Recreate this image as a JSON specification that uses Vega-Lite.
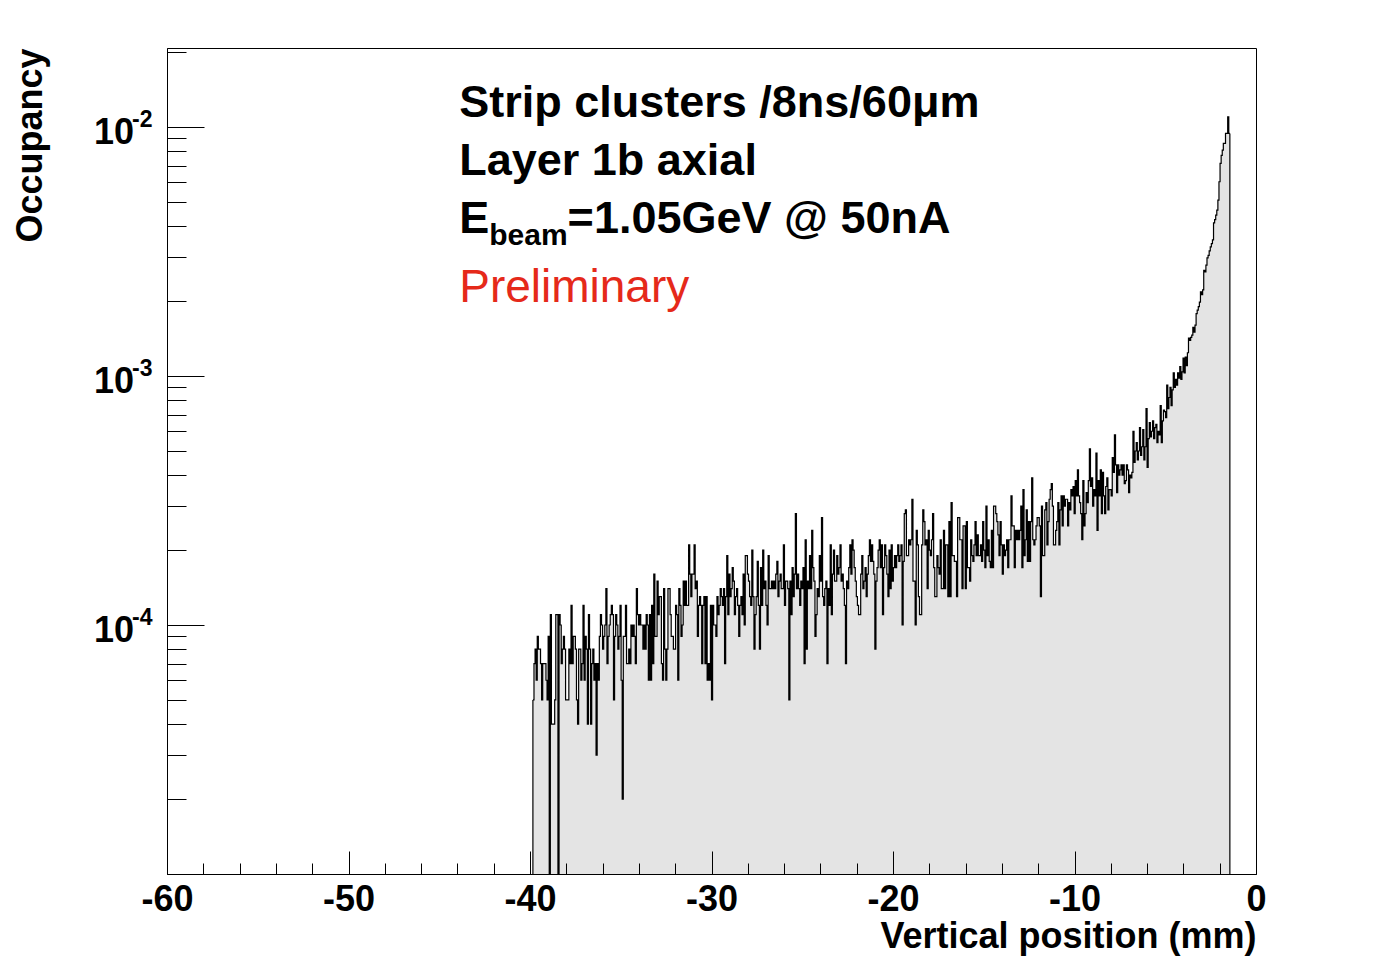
{
"$schema": "https://vega.github.io/schema/vega-lite/v6.json",
"width": 1089, "height": 826,
"autosize": {"type": "none"},
"padding": {"left": 167, "top": 48, "right": 140, "bottom": 98},
"background": "white",
"config": {
  "view": {"stroke": "black", "strokeWidth": 1},
  "axis": {"grid": false, "domainColor": "black", "tickColor": "black", "domainWidth": 1, "tickWidth": 1, "labelColor": "black", "titleColor": "black"}
},
"datasets": {
"hist": [
{"x":-39.84,"y":5e-5},{"x":-39.78,"y":7e-5},{"x":-39.72,"y":8e-5},{"x":-39.66,"y":6e-5},{"x":-39.6,"y":9e-5},{"x":-39.54,"y":8e-5},{"x":-39.48,"y":8e-5},{"x":-39.42,"y":7e-5},{"x":-39.36,"y":5e-5},{"x":-39.3,"y":7e-5},
{"x":-39.24,"y":7e-5},{"x":-39.18,"y":7e-5},{"x":-39.12,"y":6e-5},{"x":-39.06,"y":5e-5},{"x":-39,"y":9e-5},{"x":-38.94,"y":1e-5},{"x":-38.88,"y":1.1e-4},{"x":-38.82,"y":4e-5},{"x":-38.76,"y":4e-5},{"x":-38.7,"y":4e-5},
{"x":-38.64,"y":5e-5},{"x":-38.58,"y":1.1e-4},{"x":-38.52,"y":1.1e-4},{"x":-38.46,"y":1e-5},{"x":-38.4,"y":1.1e-4},{"x":-38.34,"y":1e-4},{"x":-38.28,"y":7e-5},{"x":-38.22,"y":8e-5},{"x":-38.16,"y":9e-5},{"x":-38.1,"y":8e-5},
{"x":-38.04,"y":5e-5},{"x":-37.98,"y":5e-5},{"x":-37.92,"y":5e-5},{"x":-37.86,"y":8e-5},{"x":-37.8,"y":7e-5},{"x":-37.74,"y":1.2e-4},{"x":-37.68,"y":7e-5},{"x":-37.62,"y":9e-5},{"x":-37.56,"y":9e-5},{"x":-37.5,"y":8e-5},
{"x":-37.44,"y":5e-5},{"x":-37.38,"y":4e-5},{"x":-37.32,"y":8e-5},{"x":-37.26,"y":8e-5},{"x":-37.2,"y":6e-5},{"x":-37.14,"y":7e-5},{"x":-37.08,"y":1.2e-4},{"x":-37.02,"y":6e-5},{"x":-36.96,"y":9e-5},{"x":-36.9,"y":8e-5},
{"x":-36.84,"y":4e-5},{"x":-36.78,"y":1.1e-4},{"x":-36.72,"y":8e-5},{"x":-36.66,"y":4e-5},{"x":-36.6,"y":7e-5},{"x":-36.54,"y":8e-5},{"x":-36.48,"y":6e-5},{"x":-36.42,"y":7e-5},{"x":-36.36,"y":3e-5},{"x":-36.3,"y":7e-5},
{"x":-36.24,"y":6e-5},{"x":-36.18,"y":9e-5},{"x":-36.12,"y":1.1e-4},{"x":-36.06,"y":1e-4},{"x":-36,"y":8e-5},{"x":-35.94,"y":9e-5},{"x":-35.88,"y":1e-4},{"x":-35.82,"y":1.4e-4},{"x":-35.76,"y":7e-5},{"x":-35.7,"y":9e-5},
{"x":-35.64,"y":1e-4},{"x":-35.58,"y":1.1e-4},{"x":-35.52,"y":1.2e-4},{"x":-35.46,"y":1.1e-4},{"x":-35.4,"y":5e-5},{"x":-35.34,"y":9e-5},{"x":-35.28,"y":1.1e-4},{"x":-35.22,"y":1e-4},{"x":-35.16,"y":8e-5},{"x":-35.1,"y":9e-5},
{"x":-35.04,"y":1.2e-4},{"x":-34.98,"y":6e-5},{"x":-34.92,"y":2e-5},{"x":-34.86,"y":9e-5},{"x":-34.8,"y":9e-5},{"x":-34.74,"y":1.2e-4},{"x":-34.68,"y":7e-5},{"x":-34.62,"y":7e-5},{"x":-34.56,"y":8e-5},{"x":-34.5,"y":7e-5},
{"x":-34.44,"y":1e-4},{"x":-34.38,"y":9e-5},{"x":-34.32,"y":1e-4},{"x":-34.26,"y":9e-5},{"x":-34.2,"y":7e-5},{"x":-34.14,"y":1.4e-4},{"x":-34.08,"y":1.1e-4},{"x":-34.02,"y":1e-4},{"x":-33.96,"y":1.1e-4},{"x":-33.9,"y":1e-4},
{"x":-33.84,"y":1e-4},{"x":-33.78,"y":8e-5},{"x":-33.72,"y":1e-4},{"x":-33.66,"y":8e-5},{"x":-33.6,"y":1.1e-4},{"x":-33.54,"y":1e-4},{"x":-33.48,"y":6e-5},{"x":-33.42,"y":1.1e-4},{"x":-33.36,"y":6e-5},{"x":-33.3,"y":1.2e-4},
{"x":-33.24,"y":7e-5},{"x":-33.18,"y":1.6e-4},{"x":-33.12,"y":9e-5},{"x":-33.06,"y":9e-5},{"x":-33,"y":1.5e-4},{"x":-32.94,"y":1.1e-4},{"x":-32.88,"y":1.3e-4},{"x":-32.82,"y":1.3e-4},{"x":-32.76,"y":7e-5},{"x":-32.7,"y":6e-5},
{"x":-32.64,"y":1.4e-4},{"x":-32.58,"y":8e-5},{"x":-32.52,"y":6e-5},{"x":-32.46,"y":8e-5},{"x":-32.4,"y":1.4e-4},{"x":-32.34,"y":1.4e-4},{"x":-32.28,"y":1.1e-4},{"x":-32.22,"y":9e-5},{"x":-32.16,"y":9e-5},{"x":-32.1,"y":8e-5},
{"x":-32.04,"y":8e-5},{"x":-31.98,"y":1.2e-4},{"x":-31.92,"y":1.1e-4},{"x":-31.86,"y":6e-5},{"x":-31.8,"y":1.4e-4},{"x":-31.74,"y":1.2e-4},{"x":-31.68,"y":9e-5},{"x":-31.62,"y":1e-4},{"x":-31.56,"y":1.5e-4},{"x":-31.5,"y":1.2e-4},
{"x":-31.44,"y":1.5e-4},{"x":-31.38,"y":1.2e-4},{"x":-31.32,"y":1.2e-4},{"x":-31.26,"y":2.1e-4},{"x":-31.2,"y":1.6e-4},{"x":-31.14,"y":1.3e-4},{"x":-31.08,"y":1.6e-4},{"x":-31.02,"y":1.6e-4},{"x":-30.96,"y":2.1e-4},{"x":-30.9,"y":1.4e-4},
{"x":-30.84,"y":1.5e-4},{"x":-30.78,"y":9e-5},{"x":-30.72,"y":1.2e-4},{"x":-30.66,"y":1.3e-4},{"x":-30.6,"y":1.2e-4},{"x":-30.54,"y":7e-5},{"x":-30.48,"y":1.2e-4},{"x":-30.42,"y":1.3e-4},{"x":-30.36,"y":7e-5},{"x":-30.3,"y":1.3e-4},
{"x":-30.24,"y":6e-5},{"x":-30.18,"y":7e-5},{"x":-30.12,"y":6e-5},{"x":-30.06,"y":1.2e-4},{"x":-30,"y":5e-5},{"x":-29.94,"y":1.2e-4},{"x":-29.88,"y":1e-4},{"x":-29.82,"y":1e-4},{"x":-29.76,"y":9e-5},{"x":-29.7,"y":1.3e-4},
{"x":-29.64,"y":1.1e-4},{"x":-29.58,"y":1.2e-4},{"x":-29.52,"y":1.4e-4},{"x":-29.46,"y":1.3e-4},{"x":-29.4,"y":1.2e-4},{"x":-29.34,"y":1.4e-4},{"x":-29.28,"y":7e-5},{"x":-29.22,"y":1.3e-4},{"x":-29.16,"y":1.9e-4},{"x":-29.1,"y":1.1e-4},
{"x":-29.04,"y":1.6e-4},{"x":-28.98,"y":1.3e-4},{"x":-28.92,"y":1.4e-4},{"x":-28.86,"y":1.7e-4},{"x":-28.8,"y":1.5e-4},{"x":-28.74,"y":1.1e-4},{"x":-28.68,"y":1.3e-4},{"x":-28.62,"y":1.4e-4},{"x":-28.56,"y":1.2e-4},{"x":-28.5,"y":9e-5},
{"x":-28.44,"y":1.2e-4},{"x":-28.38,"y":1.3e-4},{"x":-28.32,"y":1.1e-4},{"x":-28.26,"y":1.6e-4},{"x":-28.2,"y":1e-4},{"x":-28.14,"y":1.9e-4},{"x":-28.08,"y":1.9e-4},{"x":-28.02,"y":1.6e-4},{"x":-27.96,"y":1.5e-4},{"x":-27.9,"y":1.3e-4},
{"x":-27.84,"y":1.2e-4},{"x":-27.78,"y":2e-4},{"x":-27.72,"y":1.3e-4},{"x":-27.66,"y":8e-5},{"x":-27.6,"y":1.1e-4},{"x":-27.54,"y":1.3e-4},{"x":-27.48,"y":1.8e-4},{"x":-27.42,"y":1.2e-4},{"x":-27.36,"y":8e-5},{"x":-27.3,"y":1.7e-4},
{"x":-27.24,"y":1.2e-4},{"x":-27.18,"y":2e-4},{"x":-27.12,"y":1.4e-4},{"x":-27.06,"y":1.5e-4},{"x":-27,"y":1.2e-4},{"x":-26.94,"y":1e-4},{"x":-26.88,"y":1.9e-4},{"x":-26.82,"y":1.4e-4},{"x":-26.76,"y":1.4e-4},{"x":-26.7,"y":1.5e-4},
{"x":-26.64,"y":1.4e-4},{"x":-26.58,"y":1.5e-4},{"x":-26.52,"y":1.4e-4},{"x":-26.46,"y":1.6e-4},{"x":-26.4,"y":1.8e-4},{"x":-26.34,"y":1.3e-4},{"x":-26.28,"y":1.5e-4},{"x":-26.22,"y":1.6e-4},{"x":-26.16,"y":1.4e-4},{"x":-26.1,"y":1.4e-4},
{"x":-26.04,"y":2.1e-4},{"x":-25.98,"y":1.2e-4},{"x":-25.92,"y":1.5e-4},{"x":-25.86,"y":1.5e-4},{"x":-25.8,"y":1.4e-4},{"x":-25.74,"y":5e-5},{"x":-25.68,"y":1.5e-4},{"x":-25.62,"y":1.1e-4},{"x":-25.56,"y":1.7e-4},{"x":-25.5,"y":1.3e-4},
{"x":-25.44,"y":1.6e-4},{"x":-25.38,"y":2.8e-4},{"x":-25.32,"y":1.4e-4},{"x":-25.26,"y":1.6e-4},{"x":-25.2,"y":1.4e-4},{"x":-25.14,"y":1.2e-4},{"x":-25.08,"y":1.5e-4},{"x":-25.02,"y":1.4e-4},{"x":-24.96,"y":1.7e-4},{"x":-24.9,"y":7e-5},
{"x":-24.84,"y":2.2e-4},{"x":-24.78,"y":8e-5},{"x":-24.72,"y":1.5e-4},{"x":-24.66,"y":1.4e-4},{"x":-24.6,"y":1.9e-4},{"x":-24.54,"y":1.4e-4},{"x":-24.48,"y":2.4e-4},{"x":-24.42,"y":1.7e-4},{"x":-24.36,"y":1.5e-4},{"x":-24.3,"y":9e-5},
{"x":-24.24,"y":1.1e-4},{"x":-24.18,"y":1.4e-4},{"x":-24.12,"y":1.3e-4},{"x":-24.06,"y":1.9e-4},{"x":-24,"y":1.5e-4},{"x":-23.94,"y":2.7e-4},{"x":-23.88,"y":1.3e-4},{"x":-23.82,"y":1.2e-4},{"x":-23.76,"y":1.4e-4},{"x":-23.7,"y":1.5e-4},
{"x":-23.64,"y":7e-5},{"x":-23.58,"y":1.4e-4},{"x":-23.52,"y":1.2e-4},{"x":-23.46,"y":2.1e-4},{"x":-23.4,"y":1.1e-4},{"x":-23.34,"y":1.6e-4},{"x":-23.28,"y":2e-4},{"x":-23.22,"y":1.5e-4},{"x":-23.16,"y":1.5e-4},{"x":-23.1,"y":1.9e-4},
{"x":-23.04,"y":1.6e-4},{"x":-22.98,"y":1.7e-4},{"x":-22.92,"y":2.1e-4},{"x":-22.86,"y":1.5e-4},{"x":-22.8,"y":1.6e-4},{"x":-22.74,"y":1.4e-4},{"x":-22.68,"y":1.2e-4},{"x":-22.62,"y":7e-5},{"x":-22.56,"y":1.5e-4},{"x":-22.5,"y":1.4e-4},
{"x":-22.44,"y":1.7e-4},{"x":-22.38,"y":2.1e-4},{"x":-22.32,"y":1.6e-4},{"x":-22.26,"y":2.2e-4},{"x":-22.2,"y":2e-4},{"x":-22.14,"y":1.7e-4},{"x":-22.08,"y":1.5e-4},{"x":-22.02,"y":1.3e-4},{"x":-21.96,"y":1.2e-4},{"x":-21.9,"y":1.1e-4},
{"x":-21.84,"y":1.1e-4},{"x":-21.78,"y":1.6e-4},{"x":-21.72,"y":1.9e-4},{"x":-21.66,"y":1.4e-4},{"x":-21.6,"y":1.5e-4},{"x":-21.54,"y":1.7e-4},{"x":-21.48,"y":1.3e-4},{"x":-21.42,"y":1.6e-4},{"x":-21.36,"y":1.9e-4},{"x":-21.3,"y":2.2e-4},
{"x":-21.24,"y":1.8e-4},{"x":-21.18,"y":2.1e-4},{"x":-21.12,"y":1.8e-4},{"x":-21.06,"y":1.6e-4},{"x":-21,"y":8e-5},{"x":-20.94,"y":1.5e-4},{"x":-20.88,"y":1.7e-4},{"x":-20.82,"y":2e-4},{"x":-20.76,"y":2.2e-4},{"x":-20.7,"y":1.7e-4},
{"x":-20.64,"y":2.1e-4},{"x":-20.58,"y":1.1e-4},{"x":-20.52,"y":1.7e-4},{"x":-20.46,"y":2.1e-4},{"x":-20.4,"y":1.9e-4},{"x":-20.34,"y":1.6e-4},{"x":-20.28,"y":1.3e-4},{"x":-20.22,"y":2e-4},{"x":-20.16,"y":1.4e-4},{"x":-20.1,"y":2.1e-4},
{"x":-20.04,"y":1.5e-4},{"x":-19.98,"y":1.7e-4},{"x":-19.92,"y":1.9e-4},{"x":-19.86,"y":1.7e-4},{"x":-19.8,"y":1.9e-4},{"x":-19.74,"y":2.1e-4},{"x":-19.68,"y":1.8e-4},{"x":-19.62,"y":1.9e-4},{"x":-19.56,"y":2.1e-4},{"x":-19.5,"y":1e-4},
{"x":-19.44,"y":1.8e-4},{"x":-19.38,"y":2.8e-4},{"x":-19.32,"y":2.9e-4},{"x":-19.26,"y":1.9e-4},{"x":-19.2,"y":1.9e-4},{"x":-19.14,"y":2.2e-4},{"x":-19.08,"y":2.1e-4},{"x":-19.02,"y":2.2e-4},{"x":-18.96,"y":3.2e-4},{"x":-18.9,"y":1.5e-4},
{"x":-18.84,"y":1.5e-4},{"x":-18.78,"y":1e-4},{"x":-18.72,"y":2.4e-4},{"x":-18.66,"y":2.1e-4},{"x":-18.6,"y":1.3e-4},{"x":-18.54,"y":1.1e-4},{"x":-18.48,"y":1.1e-4},{"x":-18.42,"y":2.1e-4},{"x":-18.36,"y":2.9e-4},{"x":-18.3,"y":2.6e-4},
{"x":-18.24,"y":2.1e-4},{"x":-18.18,"y":2.2e-4},{"x":-18.12,"y":1.4e-4},{"x":-18.06,"y":2.4e-4},{"x":-18,"y":2e-4},{"x":-17.94,"y":1.9e-4},{"x":-17.88,"y":2.2e-4},{"x":-17.82,"y":2.8e-4},{"x":-17.76,"y":1.7e-4},{"x":-17.7,"y":1.3e-4},
{"x":-17.64,"y":1.3e-4},{"x":-17.58,"y":1.9e-4},{"x":-17.52,"y":1.7e-4},{"x":-17.46,"y":1.6e-4},{"x":-17.4,"y":2.2e-4},{"x":-17.34,"y":1.4e-4},{"x":-17.28,"y":1.4e-4},{"x":-17.22,"y":2.4e-4},{"x":-17.16,"y":1.4e-4},{"x":-17.1,"y":2.1e-4},
{"x":-17.04,"y":2.1e-4},{"x":-16.98,"y":1.3e-4},{"x":-16.92,"y":2.6e-4},{"x":-16.86,"y":1.3e-4},{"x":-16.8,"y":3.1e-4},{"x":-16.74,"y":1.9e-4},{"x":-16.68,"y":1.9e-4},{"x":-16.62,"y":1.8e-4},{"x":-16.56,"y":1.8e-4},{"x":-16.5,"y":1.3e-4},
{"x":-16.44,"y":2.7e-4},{"x":-16.38,"y":2.7e-4},{"x":-16.32,"y":2.2e-4},{"x":-16.26,"y":2.2e-4},{"x":-16.2,"y":1.4e-4},{"x":-16.14,"y":2.5e-4},{"x":-16.08,"y":2.5e-4},{"x":-16.02,"y":1.4e-4},{"x":-15.96,"y":2.6e-4},{"x":-15.9,"y":1.7e-4},
{"x":-15.84,"y":1.7e-4},{"x":-15.78,"y":1.5e-4},{"x":-15.72,"y":2.2e-4},{"x":-15.66,"y":1.9e-4},{"x":-15.6,"y":1.8e-4},{"x":-15.54,"y":2.1e-4},{"x":-15.48,"y":2.6e-4},{"x":-15.42,"y":1.9e-4},{"x":-15.36,"y":2.3e-4},{"x":-15.3,"y":1.9e-4},
{"x":-15.24,"y":1.9e-4},{"x":-15.18,"y":2.1e-4},{"x":-15.12,"y":1.8e-4},{"x":-15.06,"y":2.6e-4},{"x":-15,"y":2e-4},{"x":-14.94,"y":1.7e-4},{"x":-14.88,"y":3e-4},{"x":-14.82,"y":1.9e-4},{"x":-14.76,"y":2.2e-4},{"x":-14.7,"y":1.8e-4},
{"x":-14.64,"y":1.7e-4},{"x":-14.58,"y":2.4e-4},{"x":-14.52,"y":1.7e-4},{"x":-14.46,"y":3e-4},{"x":-14.4,"y":3e-4},{"x":-14.34,"y":2.8e-4},{"x":-14.28,"y":2.6e-4},{"x":-14.22,"y":2.3e-4},{"x":-14.16,"y":1.9e-4},{"x":-14.1,"y":2.6e-4},
{"x":-14.04,"y":2.1e-4},{"x":-13.98,"y":1.6e-4},{"x":-13.92,"y":2.1e-4},{"x":-13.86,"y":1.9e-4},{"x":-13.8,"y":2e-4},{"x":-13.74,"y":2.2e-4},{"x":-13.68,"y":1.7e-4},{"x":-13.62,"y":2.2e-4},{"x":-13.56,"y":2.2e-4},{"x":-13.5,"y":3.3e-4},
{"x":-13.44,"y":2.5e-4},{"x":-13.38,"y":2.5e-4},{"x":-13.32,"y":1.7e-4},{"x":-13.26,"y":2.4e-4},{"x":-13.2,"y":2.2e-4},{"x":-13.14,"y":2.4e-4},{"x":-13.08,"y":2.2e-4},{"x":-13.02,"y":2.4e-4},{"x":-12.96,"y":3e-4},{"x":-12.9,"y":1.7e-4},
{"x":-12.84,"y":3.5e-4},{"x":-12.78,"y":1.9e-4},{"x":-12.72,"y":2.2e-4},{"x":-12.66,"y":2.9e-4},{"x":-12.6,"y":1.8e-4},{"x":-12.54,"y":2.6e-4},{"x":-12.48,"y":1.8e-4},{"x":-12.42,"y":2.6e-4},{"x":-12.36,"y":3.9e-4},{"x":-12.3,"y":2.2e-4},
{"x":-12.24,"y":2.1e-4},{"x":-12.18,"y":2.2e-4},{"x":-12.12,"y":2.5e-4},{"x":-12.06,"y":2.7e-4},{"x":-12,"y":2.7e-4},{"x":-11.94,"y":2.5e-4},{"x":-11.88,"y":1.3e-4},{"x":-11.82,"y":3e-4},{"x":-11.76,"y":1.9e-4},{"x":-11.7,"y":1.9e-4},
{"x":-11.64,"y":2.9e-4},{"x":-11.58,"y":3.1e-4},{"x":-11.52,"y":2.1e-4},{"x":-11.46,"y":2.6e-4},{"x":-11.4,"y":3.2e-4},{"x":-11.34,"y":3.5e-4},{"x":-11.28,"y":3.7e-4},{"x":-11.22,"y":3e-4},{"x":-11.16,"y":2.1e-4},{"x":-11.1,"y":2.1e-4},
{"x":-11.04,"y":2.4e-4},{"x":-10.98,"y":2.6e-4},{"x":-10.92,"y":3.1e-4},{"x":-10.86,"y":2.1e-4},{"x":-10.8,"y":2.9e-4},{"x":-10.74,"y":3.3e-4},{"x":-10.68,"y":2.5e-4},{"x":-10.62,"y":3.3e-4},{"x":-10.56,"y":3e-4},{"x":-10.5,"y":3.2e-4},
{"x":-10.44,"y":3.2e-4},{"x":-10.38,"y":2.5e-4},{"x":-10.32,"y":3.1e-4},{"x":-10.26,"y":2.9e-4},{"x":-10.2,"y":3.5e-4},{"x":-10.14,"y":3.3e-4},{"x":-10.08,"y":3.6e-4},{"x":-10.02,"y":2.8e-4},{"x":-9.96,"y":3.8e-4},{"x":-9.9,"y":3.3e-4},
{"x":-9.84,"y":4.2e-4},{"x":-9.78,"y":3.3e-4},{"x":-9.72,"y":3.1e-4},{"x":-9.66,"y":2.8e-4},{"x":-9.6,"y":2.2e-4},{"x":-9.54,"y":3.8e-4},{"x":-9.48,"y":2.5e-4},{"x":-9.42,"y":2.8e-4},{"x":-9.36,"y":3.4e-4},{"x":-9.3,"y":3.1e-4},
{"x":-9.24,"y":3.8e-4},{"x":-9.18,"y":5.1e-4},{"x":-9.12,"y":3.6e-4},{"x":-9.06,"y":3.9e-4},{"x":-9,"y":3e-4},{"x":-8.94,"y":3.5e-4},{"x":-8.88,"y":3.3e-4},{"x":-8.82,"y":4.9e-4},{"x":-8.76,"y":2.4e-4},{"x":-8.7,"y":3.8e-4},
{"x":-8.64,"y":3.3e-4},{"x":-8.58,"y":4.2e-4},{"x":-8.52,"y":2.8e-4},{"x":-8.46,"y":4.1e-4},{"x":-8.4,"y":3.3e-4},{"x":-8.34,"y":2.8e-4},{"x":-8.28,"y":3.6e-4},{"x":-8.22,"y":3.9e-4},{"x":-8.16,"y":2.9e-4},{"x":-8.1,"y":3.5e-4},
{"x":-8.04,"y":3.5e-4},{"x":-7.98,"y":3.3e-4},{"x":-7.92,"y":4.7e-4},{"x":-7.86,"y":4.1e-4},{"x":-7.8,"y":5.8e-4},{"x":-7.74,"y":4.4e-4},{"x":-7.68,"y":3.4e-4},{"x":-7.62,"y":4.4e-4},{"x":-7.56,"y":4e-4},{"x":-7.5,"y":4.2e-4},
{"x":-7.44,"y":4.4e-4},{"x":-7.38,"y":4e-4},{"x":-7.32,"y":4.4e-4},{"x":-7.26,"y":3.7e-4},{"x":-7.2,"y":3.8e-4},{"x":-7.14,"y":4.4e-4},{"x":-7.08,"y":4.2e-4},{"x":-7.02,"y":3.4e-4},{"x":-6.96,"y":4e-4},{"x":-6.9,"y":3.9e-4},
{"x":-6.84,"y":4.1e-4},{"x":-6.78,"y":6e-4},{"x":-6.72,"y":4.5e-4},{"x":-6.66,"y":5e-4},{"x":-6.6,"y":5.4e-4},{"x":-6.54,"y":4.6e-4},{"x":-6.48,"y":5e-4},{"x":-6.42,"y":6.2e-4},{"x":-6.36,"y":4.8e-4},{"x":-6.3,"y":5.2e-4},
{"x":-6.24,"y":6.1e-4},{"x":-6.18,"y":4.6e-4},{"x":-6.12,"y":5.2e-4},{"x":-6.06,"y":7.4e-4},{"x":-6,"y":4.3e-4},{"x":-5.94,"y":5.6e-4},{"x":-5.88,"y":6.5e-4},{"x":-5.82,"y":5.7e-4},{"x":-5.76,"y":6e-4},{"x":-5.7,"y":6.6e-4},
{"x":-5.64,"y":5.6e-4},{"x":-5.58,"y":6.2e-4},{"x":-5.52,"y":6.4e-4},{"x":-5.46,"y":5.4e-4},{"x":-5.4,"y":6e-4},{"x":-5.34,"y":5.8e-4},{"x":-5.28,"y":7.6e-4},{"x":-5.22,"y":5.4e-4},{"x":-5.16,"y":6.6e-4},{"x":-5.1,"y":7.3e-4},
{"x":-5.04,"y":7.2e-4},{"x":-4.98,"y":6.8e-4},{"x":-4.92,"y":9.2e-4},{"x":-4.86,"y":7.4e-4},{"x":-4.8,"y":8.2e-4},{"x":-4.74,"y":9e-4},{"x":-4.68,"y":7.6e-4},{"x":-4.62,"y":8.8e-4},{"x":-4.56,"y":1.03e-3},{"x":-4.5,"y":9e-4},
{"x":-4.44,"y":9.7e-4},{"x":-4.38,"y":9.2e-4},{"x":-4.32,"y":1.03e-3},{"x":-4.26,"y":9.8e-4},{"x":-4.2,"y":1.09e-3},{"x":-4.14,"y":9.7e-4},{"x":-4.08,"y":1.04e-3},{"x":-4.02,"y":1.18e-3},{"x":-3.96,"y":1.03e-3},{"x":-3.9,"y":1.19e-3},
{"x":-3.84,"y":1.1e-3},{"x":-3.78,"y":1.24e-3},{"x":-3.72,"y":1.42e-3},{"x":-3.66,"y":1.39e-3},{"x":-3.6,"y":1.43e-3},{"x":-3.54,"y":1.46e-3},{"x":-3.48,"y":1.57e-3},{"x":-3.42,"y":1.5e-3},{"x":-3.36,"y":1.6e-3},{"x":-3.3,"y":1.78e-3},
{"x":-3.24,"y":1.84e-3},{"x":-3.18,"y":1.9e-3},{"x":-3.12,"y":1.98e-3},{"x":-3.06,"y":2.18e-3},{"x":-3,"y":2.12e-3},{"x":-2.94,"y":2.22e-3},{"x":-2.88,"y":2.66e-3},{"x":-2.82,"y":2.62e-3},{"x":-2.76,"y":2.79e-3},{"x":-2.7,"y":2.98e-3},
{"x":-2.64,"y":3.05e-3},{"x":-2.58,"y":3.18e-3},{"x":-2.52,"y":3.3e-3},{"x":-2.46,"y":3.4e-3},{"x":-2.4,"y":3.52e-3},{"x":-2.34,"y":4.12e-3},{"x":-2.28,"y":4.25e-3},{"x":-2.22,"y":4.43e-3},{"x":-2.16,"y":4.64e-3},{"x":-2.1,"y":5.09e-3},
{"x":-2.04,"y":6.03e-3},{"x":-1.98,"y":7.15e-3},{"x":-1.92,"y":7.7e-3},{"x":-1.86,"y":8.08e-3},{"x":-1.8,"y":8.6e-3},{"x":-1.74,"y":8.6e-3},{"x":-1.68,"y":9.43e-3},{"x":-1.62,"y":9.43e-3},{"x":-1.56,"y":1.1e-2},{"x":-1.5,"y":9.43e-3},
{"x":-1.44,"y":9.43e-3}
],
"edges": [{"x":-39.84,"y":5e-5},{"x":-1.44,"y":9.43e-3}],
"ylab": [{"v":0.01,"e":"-2"},{"v":0.001,"e":"-3"},{"v":0.0001,"e":"-4"}]
},
"layer": [
{
  "data": {"name": "hist"},
  "mark": {"type": "area", "interpolate": "step-after", "color": "#e4e4e4", "clip": true},
  "encoding": {
    "x": {"field": "x", "type": "quantitative", "title": "Vertical position (mm)",
      "scale": {"domain": [-60, 0], "nice": false, "zero": false},
      "axis": {"values": [-60,-58,-56,-54,-52,-50,-48,-46,-44,-42,-40,-38,-36,-34,-32,-30,-28,-26,-24,-22,-20,-18,-16,-14,-12,-10,-8,-6,-4,-2,0],
        "tickCount": 200,
        "tickSize": {"condition": {"test": "datum.value % 10 === 0", "value": -23}, "value": -11},
        "labelExpr": "datum.value % 10 === 0 ? '' + datum.value : ''",
        "labelFont": "Liberation Sans", "labelFontWeight": "bold", "labelFontSize": 36,
        "labelPadding": 31, "labelFlush": false, "labelOverlap": false, "labelBound": false,
        "titleFont": "Liberation Sans", "titleFontWeight": "bold", "titleFontSize": 36,
        "titleAnchor": "end", "titleAlign": "right", "titleBaseline": "alphabetic", "titleX": 1089, "titleY": 73,
        "zindex": 1}},
    "y": {"field": "y", "type": "quantitative", "title": "Occupancy",
      "scale": {"type": "log", "domain": [1e-5, 0.02077], "nice": false},
      "axis": {"values": [2e-5,3e-5,4e-5,5e-5,6e-5,7e-5,8e-5,9e-5,1e-4,2e-4,3e-4,4e-4,5e-4,6e-4,7e-4,8e-4,9e-4,1e-3,2e-3,3e-3,4e-3,5e-3,6e-3,7e-3,8e-3,9e-3,1e-2,2e-2],
        "tickCount": 200,
        "tickSize": {"condition": {"test": "abs(log(datum.value)/LN10 - round(log(datum.value)/LN10)) < 0.01", "value": -37}, "value": -19},
        "labels": false,
        "titleFont": "Liberation Sans", "titleFontWeight": "bold", "titleFontSize": 36,
        "titleAngle": 270, "titleAnchor": "end", "titleAlign": "right", "titleBaseline": "alphabetic", "titleX": -126, "titleY": 0,
        "zindex": 1}},
    "y2": {"datum": 1e-5}
  }
},
{
  "data": {"name": "hist"},
  "mark": {"type": "line", "interpolate": "step-after", "color": "black", "strokeWidth": 1.2, "clip": true},
  "encoding": {
    "x": {"field": "x", "type": "quantitative", "title": "Vertical position (mm)"},
    "y": {"field": "y", "type": "quantitative", "title": "Occupancy"}
  }
},
{
  "data": {"name": "edges"},
  "mark": {"type": "rule", "color": "black", "strokeWidth": 1.2},
  "encoding": {
    "x": {"field": "x", "type": "quantitative", "title": "Vertical position (mm)"},
    "y": {"field": "y", "type": "quantitative", "title": "Occupancy"},
    "y2": {"datum": 1e-5}
  }
},
{
  "data": {"name": "ylab"},
  "mark": {"type": "text", "text": "10", "align": "right", "baseline": "alphabetic", "dx": -33, "dy": 17, "font": "Liberation Sans", "fontWeight": "bold", "fontSize": 36, "color": "black"},
  "encoding": {"x": {"datum": -60}, "y": {"field": "v", "type": "quantitative", "title": "Occupancy"}}
},
{
  "data": {"name": "ylab"},
  "mark": {"type": "text", "align": "left", "baseline": "alphabetic", "dx": -35, "dy": 0, "font": "Liberation Sans", "fontWeight": "bold", "fontSize": 23, "color": "black"},
  "encoding": {"x": {"datum": -60}, "y": {"field": "v", "type": "quantitative", "title": "Occupancy"}, "text": {"field": "e"}}
},
{
  "data": {"values": [{}]},
  "mark": {"type": "text", "text": "Strip clusters /8ns/60μm", "align": "left", "baseline": "alphabetic", "font": "Liberation Sans", "fontWeight": "bold", "fontSize": 45, "color": "black"},
  "encoding": {"x": {"datum": -43.9}, "y": {"datum": 0.010969}}
},
{
  "data": {"values": [{}]},
  "mark": {"type": "text", "text": "Layer 1b axial", "align": "left", "baseline": "alphabetic", "font": "Liberation Sans", "fontWeight": "bold", "fontSize": 45, "color": "black"},
  "encoding": {"x": {"datum": -43.9}, "y": {"datum": 0.006414}}
},
{
  "data": {"values": [{}]},
  "mark": {"type": "text", "text": "E", "align": "left", "baseline": "alphabetic", "font": "Liberation Sans", "fontWeight": "bold", "fontSize": 45, "color": "black"},
  "encoding": {"x": {"datum": -43.9}, "y": {"datum": 0.0037523}}
},
{
  "data": {"values": [{}]},
  "mark": {"type": "text", "text": "beam", "align": "left", "baseline": "alphabetic", "dx": 30, "dy": 12, "font": "Liberation Sans", "fontWeight": "bold", "fontSize": 30, "color": "black"},
  "encoding": {"x": {"datum": -43.9}, "y": {"datum": 0.0037523}}
},
{
  "data": {"values": [{}]},
  "mark": {"type": "text", "text": "=1.05GeV @ 50nA", "align": "left", "baseline": "alphabetic", "dx": 108.4, "font": "Liberation Sans", "fontWeight": "bold", "fontSize": 45, "color": "black"},
  "encoding": {"x": {"datum": -43.9}, "y": {"datum": 0.0037523}}
},
{
  "data": {"values": [{}]},
  "mark": {"type": "text", "text": "Preliminary", "align": "left", "baseline": "alphabetic", "font": "Liberation Sans", "fontWeight": "normal", "fontSize": 46, "color": "#e5291a"},
  "encoding": {"x": {"datum": -43.9}, "y": {"datum": 0.0019823}}
}
]
}
